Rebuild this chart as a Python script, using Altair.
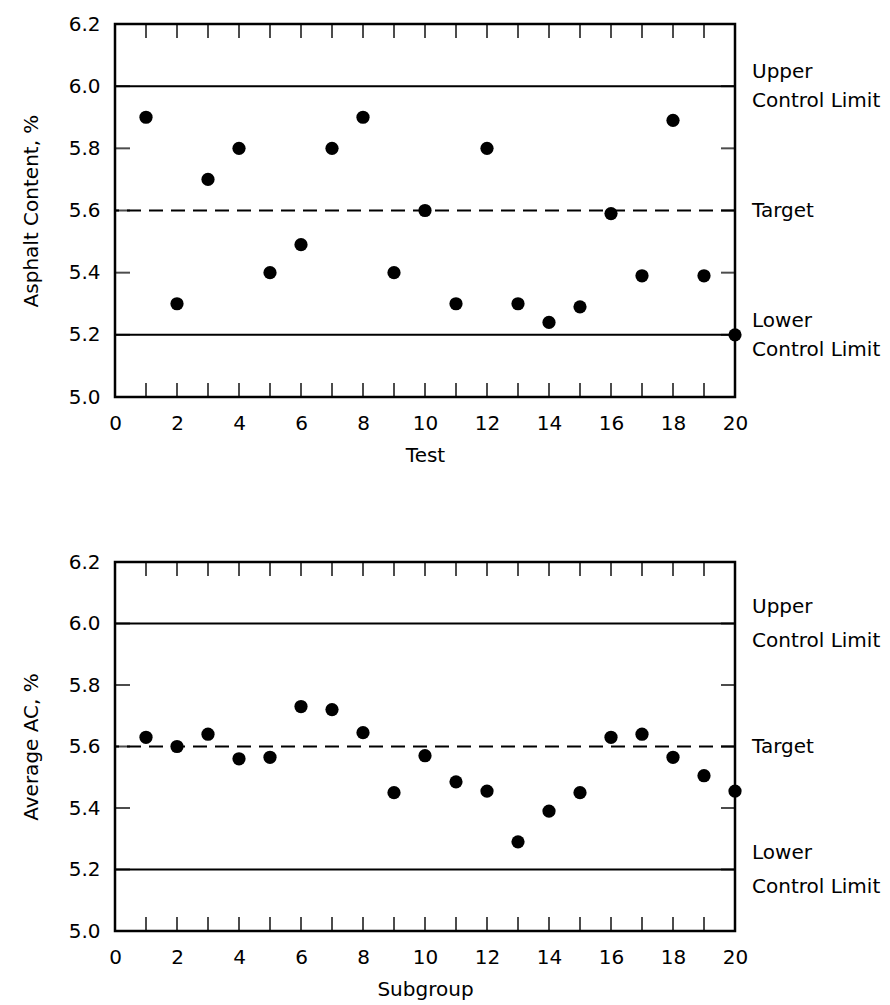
import altair as alt
import pandas as pd

# ---- data ----
tests = list(range(1, 21))
asphalt_content = [5.90, 5.30, 5.70, 5.80, 5.40, 5.49, 5.80, 5.90, 5.40, 5.60,
                   5.30, 5.80, 5.30, 5.24, 5.29, 5.59, 5.39, 5.89, 5.39, 5.20]

subgroups = list(range(1, 21))
average_ac = [5.63, 5.60, 5.64, 5.56, 5.565, 5.73, 5.72, 5.645, 5.45, 5.57,
              5.485, 5.455, 5.29, 5.39, 5.45, 5.63, 5.64, 5.565, 5.505, 5.455]

x_tick_values = list(range(1, 20))
x_label_values = list(range(0, 21, 2))
y_label_values = [5.0, 5.2, 5.4, 5.6, 5.8, 6.0, 6.2]
y_tick_values = [5.2, 5.4, 5.6, 5.8, 6.0]

control_limits = [6.0, 5.2]
target_value = [5.6]
limit_label_values = [6.0, 5.2]
limit_label_texts = ["Upper\nControl Limit", "Lower\nControl Limit"]
target_label_texts = ["Target"]

FONT = "DejaVu Sans"
FS = 20


def panel(xs, ys, xtitle, ytitle, height, line_height, first_dy):
    xscale = alt.Scale(domain=[0, 20], nice=False, zero=False)
    yscale = alt.Scale(domain=[5.0, 6.2], nice=False, zero=False)
    xaxis = alt.Axis(values=x_label_values, format="d", ticks=False, domain=False,
                     grid=False, labelPadding=16, titlePadding=12, labelFlush=False)
    yaxis = alt.Axis(values=y_label_values, format=".1f", ticks=False, domain=False,
                     grid=False, labelPadding=15, titlePadding=27, labelFlush=False)

    def X(field="x"):
        return alt.X(f"{field}:Q", scale=xscale, axis=xaxis, title=xtitle)

    def Y(field="y"):
        return alt.Y(f"{field}:Q", scale=yscale, axis=yaxis, title=ytitle)

    pts = pd.DataFrame({"x": xs, "y": ys})
    lim = pd.DataFrame({"y": control_limits})
    tgt = pd.DataFrame({"y": target_value})
    xt = pd.DataFrame({"x": x_tick_values})
    yt = pd.DataFrame({"y": y_tick_values})
    lab = pd.DataFrame({"y": limit_label_values, "t": limit_label_texts})
    tlab = pd.DataFrame({"y": target_value, "t": target_label_texts})

    limits = alt.Chart(lim).mark_rule(color="black", strokeWidth=2).encode(y=Y())
    target = alt.Chart(tgt).mark_rule(color="black", strokeWidth=2,
                                      strokeDash=[14, 8]).encode(y=Y())
    bottom_ticks = alt.Chart(xt).mark_tick(orient="vertical", size=14, thickness=2,
                                           color="black", yOffset=-7).encode(
        x=X(), y=alt.datum(5.0))
    top_ticks = alt.Chart(xt).mark_tick(orient="vertical", size=14, thickness=2,
                                        color="black", yOffset=7).encode(
        x=X(), y=alt.datum(6.2))
    left_ticks = alt.Chart(yt).mark_tick(orient="horizontal", size=15, thickness=2,
                                         color="black", xOffset=7.5).encode(
        y=Y(), x=alt.datum(0))
    right_ticks = alt.Chart(yt).mark_tick(orient="horizontal", size=14, thickness=2,
                                          color="black", xOffset=-7).encode(
        y=Y(), x=alt.datum(20))
    points = alt.Chart(pts).mark_point(filled=True, color="black", size=175,
                                       opacity=1).encode(x=X(), y=Y())
    labels = alt.Chart(lab).mark_text(align="left", baseline="middle", dx=17,
                                      dy=first_dy,
                                      font=FONT, fontSize=FS, color="black",
                                      lineBreak="\n", lineHeight=line_height).encode(
        x=alt.datum(20), y=Y(), text="t:N")
    tlabels = alt.Chart(tlab).mark_text(align="left", baseline="middle", dx=17,
                                        font=FONT, fontSize=FS, color="black").encode(
        x=alt.datum(20), y=Y(), text="t:N")

    return alt.layer(limits, target, bottom_ticks, top_ticks, left_ticks,
                     right_ticks, points, labels, tlabels).properties(
        width=620, height=height)


top = panel(tests, asphalt_content, "Test", "Asphalt Content, %", 373, 29, -14)
bottom = panel(subgroups, average_ac, "Subgroup", "Average AC, %", 369, 34, -17)

chart = alt.vconcat(top, bottom, spacing=83).properties(
    padding={"left": 11, "top": 4, "right": 0, "bottom": 0},
    background="white"
).configure_view(
    stroke="black", strokeWidth=2.5
).configure_axis(
    labelFont=FONT, labelFontSize=FS, labelColor="black",
    titleFont=FONT, titleFontSize=FS, titleColor="black", titleFontWeight="normal"
)

chart.save("out.html", embed_options={"renderer": "svg", "actions": False})
